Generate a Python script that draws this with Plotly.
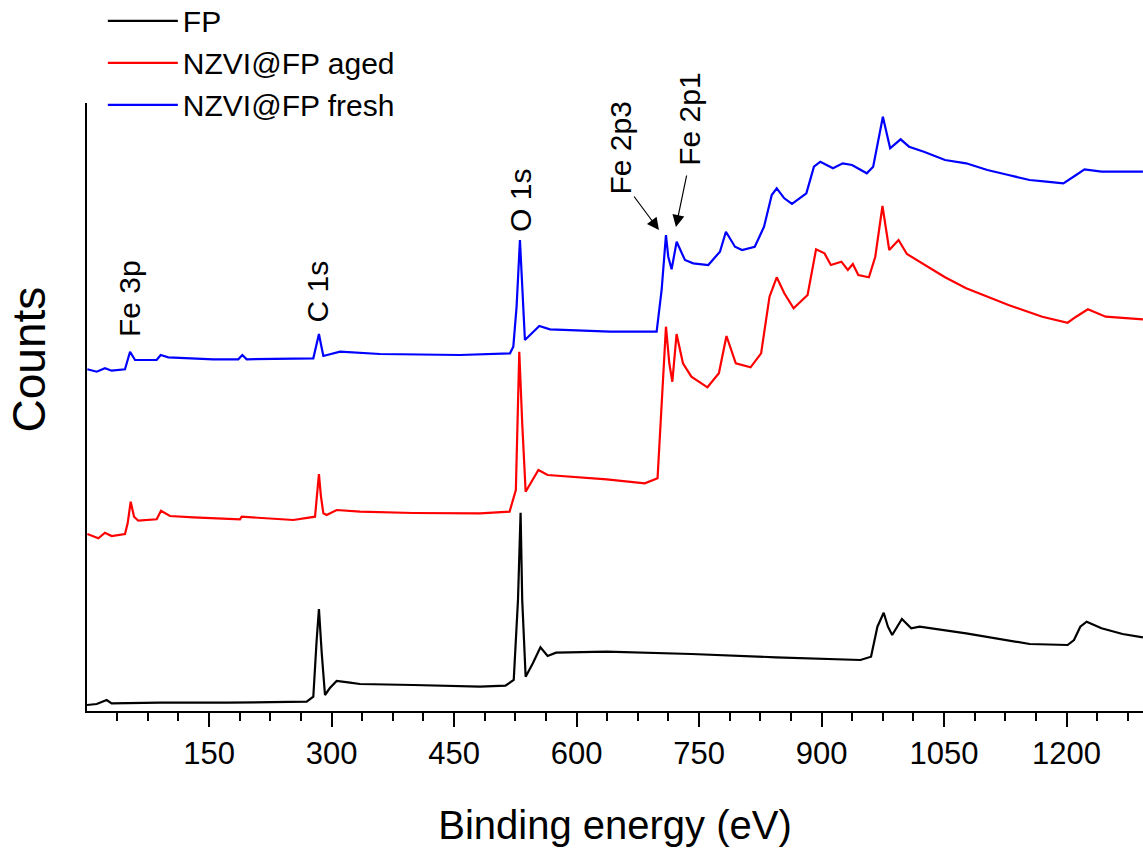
import plotly.graph_objects as go

# ---- data (binding energy in eV, counts in arbitrary units) ----
fp_energy = [0.6, 12.5, 24.7, 30.8, 90, 171.6, 269.6, 277.7, 281.8, 284.6, 288, 292, 298, 306.3,
             322.6, 334.8, 400, 481.8, 512.9, 523.1, 528.3, 531.5, 533.5, 537.7, 546.5, 555.8,
             564.6, 574.9, 637, 740.6, 844.2, 947.6, 960.6, 968.4, 976.1, 981.3, 986.5, 998.4,
             1009.8, 1020.1, 1077.1, 1154.8, 1201.3, 1209.1, 1216.8, 1224.6, 1242.8, 1268.6, 1293.5]
fp_counts = [6, 7, 11, 7.7, 8.3, 8.3, 9.3, 14.3, 71, 102, 58, 16, 23, 30,
             28.3, 27, 26, 24.3, 25.3, 31, 111, 198.3, 111, 34.3, 47.7, 63.7,
             55, 58.3, 59.3, 57, 53.7, 51, 54.3, 84.3, 98.3, 84.3, 76, 92,
             82.7, 84.3, 77.7, 67, 66, 71, 84.3, 89.3, 82.7, 77, 73.7]

aged_energy = [1, 14.5, 22.6, 30.8, 47.1, 50.4, 54.1, 58.2, 63.4, 85.9, 91.2, 102.2, 130.8, 187.9,
               190, 253.2, 279.8, 282.5, 284.6, 287, 290, 294, 306.3, 334.8, 400, 481.8, 518,
               525.7, 529.9, 533.5, 537.7, 553.3, 564.6, 637, 683.6, 699.2, 705.4, 709.5, 713.6,
               717.3, 722.5, 730.3, 740.6, 760.3, 774.3, 783.6, 795, 813.1, 826, 836.3, 845.1,
               854.4, 865.8, 882.9, 893.3, 903.6, 911.4, 924.3, 932.2, 938.3, 945, 958, 965.8,
               974.6, 982.9, 994.3, 1004.5, 1020.1, 1051.2, 1077.1, 1128.9, 1170.3, 1201.3,
               1211.7, 1226.1, 1247.9, 1293.5]
aged_counts = [177, 172.7, 178.3, 175, 177, 187.7, 209.3, 194.3, 190.3, 191.7, 200.3, 195, 193.7, 191.7,
               194.3, 191, 194.3, 215, 237, 215, 197.7, 196, 201, 199.3, 198, 197.7, 199.3,
               221, 359.3, 287.7, 219.3, 241, 236, 231.7, 227.7, 232.7, 321, 384.3, 347.7,
               329.3, 377, 347.7, 334.3, 323.7, 337.7, 375, 347.7, 343.7, 357.7, 414.3, 433.7,
               417.7, 402.7, 416, 461.7, 457.7, 446, 449.3, 441, 447, 436, 433.7, 454.3,
               505, 461, 471, 457, 449.3, 433.7, 422.7, 406, 394.3, 388.3,
               394.3, 401.7, 394.3, 391.7]

fresh_energy = [1, 12.5, 22.6, 30.8, 47.1, 53.3, 59.4, 85.9, 90.8, 100.2, 155.2, 185.8, 190.8, 196.1,
                277.7, 281.5, 284.6, 287.5, 290, 310.4, 359.3, 457, 518.5, 522.6, 526.6, 530.7,
                534, 536.8, 554.4, 567.5, 640.9, 698.1, 704.2, 709.5, 712.3, 716.4, 722.6, 732.7,
                742.9, 761.3, 775.6, 782.9, 794, 802.7, 818.2, 829.6, 839, 845.1, 854.4, 863.8,
                881.4, 890.7, 898.5, 914, 925.9, 937.3, 955.4, 963.2, 975.1, 984, 996.8, 1007.2,
                1025.3, 1051.2, 1077.1, 1103, 1128.9, 1154.8, 1175.2, 1196.1, 1211.7, 1222,
                1242.8, 1293.5]
fresh_counts = [341.7, 339.3, 342.7, 340.3, 341.7, 359.3, 351, 351, 356, 353.7, 351.7, 351.7, 356, 351.7,
                352.7, 365, 377, 365, 355, 359.3, 357, 356, 357.7, 364.3, 404.3, 471,
                411, 371, 385, 381.7, 379.3, 379.3, 421, 476, 454.3, 441.7, 469.3, 451,
                447.7, 446, 459.3, 479.3, 464.3, 461, 464.3, 484.3, 516, 522.7, 512.7, 507,
                517.7, 544.3, 549.3, 542.7, 547.7, 546, 537.7, 544.3, 594.3, 562.7, 571.7, 564.3,
                559.3, 551, 547.7, 541, 536, 531, 529.3, 527.7, 536, 541.7,
                539.3, 539.3]

series_names = ["FP", "NZVI@FP aged", "NZVI@FP fresh"]
series_colors = ["#000000", "#ff0000", "#0000ff"]

peak_labels = ["Fe 3p", "C 1s", "O 1s", "Fe 2p3", "Fe 2p1"]
peak_label_energy = [52, 282.8, 530.7, 653.8, 737.5]
peak_label_counts = [413, 420, 511, 563, 592]

FONT = "Arial, 'Liberation Sans', sans-serif"

fig = go.Figure()
for xs, ys, name, col in [(fp_energy, fp_counts, series_names[0], series_colors[0]),
                          (aged_energy, aged_counts, series_names[1], series_colors[1]),
                          (fresh_energy, fresh_counts, series_names[2], series_colors[2])]:
    fig.add_trace(go.Scatter(x=xs, y=ys, mode="lines", name=name,
                             line=dict(color=col, width=2.2)))

annotations = []
for t, ex, cy in zip(peak_labels, peak_label_energy, peak_label_counts):
    annotations.append(dict(x=ex, y=cy, xref="x", yref="y", text=t, textangle=-90,
                            showarrow=False, xanchor="center", yanchor="middle",
                            font=dict(family=FONT, size=30, color="black")))
# arrows for Fe 2p3 and Fe 2p1
annotations.append(dict(x=700.9, y=481, xref="x", yref="y", text="", showarrow=True,
                        ax=-26, ay=-35, arrowhead=2, arrowsize=2, arrowwidth=1.2, arrowcolor="black"))
annotations.append(dict(x=721.7, y=484, xref="x", yref="y", text="", showarrow=True,
                        ax=11, ay=-53, arrowhead=2, arrowsize=2, arrowwidth=1.2, arrowcolor="black"))
# y-axis title (placed where the reference shows it)
annotations.append(dict(x=-58.5 / 1056, y=(711 - 360) / 608, xref="paper", yref="paper",
                        text="Counts", textangle=-90, showarrow=False,
                        xanchor="center", yanchor="middle",
                        font=dict(family=FONT, size=46, color="black")))

fig.update_layout(
    width=1143, height=850,
    margin=dict(l=87, r=0, t=103, b=139, autoexpand=False),
    paper_bgcolor="white", plot_bgcolor="white",
    font=dict(family=FONT, size=31, color="black"),
    showlegend=True,
    legend=dict(x=0.015, y=1.178, xanchor="left", yanchor="top",
                bgcolor="rgba(0,0,0,0)", font=dict(family=FONT, size=30),
                itemwidth=70, tracegroupgap=0),
    annotations=annotations,
    xaxis=dict(range=[0.6, 1293.6], showgrid=False, zeroline=False, automargin=False,
               showline=True, linecolor="black", linewidth=2,
               ticks="outside", ticklen=14, tickwidth=2, tickcolor="black",
               tick0=0, dtick=150, ticklabelstandoff=0,
               tickfont=dict(family=FONT, size=31),
               minor=dict(ticks="outside", ticklen=8, tickwidth=2, tickcolor="black", dtick=37.5),
               title=dict(text="Binding energy (eV)", font=dict(family=FONT, size=40), standoff=41)),
    yaxis=dict(range=[0, 608], showgrid=False, zeroline=False, automargin=False,
               showline=True, linecolor="black", linewidth=2,
               ticks="", showticklabels=False),
)

fig.write_html("out.html", config={"displayModeBar": False},
               post_script="document.body.style.margin='0px';document.body.style.overflow='hidden';")
